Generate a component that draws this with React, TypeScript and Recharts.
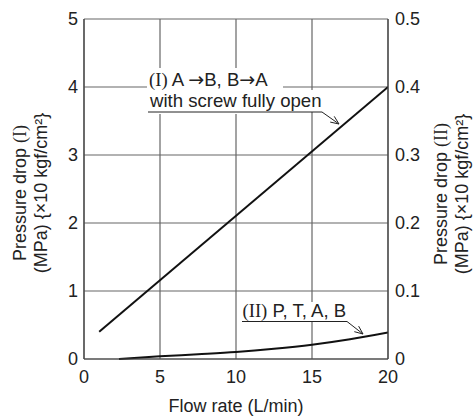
import { LineChart, Line, XAxis, YAxis, CartesianGrid } from 'recharts';

const flowTicks = [0, 5, 10, 15, 20];
const dropTicksI = [0, 1, 2, 3, 4, 5];
const dropTicksII = [0, 0.1, 0.2, 0.3, 0.4, 0.5];

// (I) A->B, B->A with screw fully open
const flowI = [1, 20];
const dropI = [0.4, 4.0];

// (II) P, T, A, B
const flowII = [2.3, 5, 7.5, 10, 12.5, 15, 17.5, 20];
const dropII = [0, 0.004, 0.007, 0.0103, 0.015, 0.021, 0.029, 0.039];

const seriesI = flowI.map((x, i) => ({ x, y: dropI[i] }));
const seriesII = flowII.map((x, i) => ({ x, y: dropII[i] }));

const W = 475;
const H = 417;
const sans = '"Liberation Sans", Arial, sans-serif';
const serif = '"Liberation Serif", "Times New Roman", serif';
const arrowFont = '"DejaVu Sans", sans-serif';
const tickStyle = { fontSize: 18, fill: '#222', fontFamily: sans };

function Arrow({ x1, y1, x2, y2 }: { x1: number; y1: number; x2: number; y2: number }) {
    const a = Math.atan2(y2 - y1, x2 - x1);
    const len = 9;
    const s = 0.4;
    const p1 = [x2 - len * Math.cos(a - s), y2 - len * Math.sin(a - s)];
    const p2 = [x2 - len * Math.cos(a + s), y2 - len * Math.sin(a + s)];
    return (
        <g stroke="#222" strokeWidth={1} fill="none">
            <line x1={x1} y1={y1} x2={x2} y2={y2} />
            <polyline points={`${p1[0]},${p1[1]} ${x2},${y2} ${p2[0]},${p2[1]}`} />
        </g>
    );
}

function Overlay() {
    return (
        <svg width={W} height={H} style={{ position: 'absolute', left: 0, top: 0, pointerEvents: 'none' }}>
            <g fontFamily={sans} fontSize={18} fill="#222">
                {/* white backing behind annotation text */}
                <rect x={147} y={68} width={136} height={46} fill="#fff" />
                <rect x={283} y={90} width={41} height={22} fill="#fff" />
                <rect x={240} y={302} width={108} height={19} fill="#fff" />

                <g fontSize={18.6}>
                    <text x={149} y={86}>
                        <tspan fontFamily={serif}>(I)</tspan> A <tspan fontFamily={arrowFont} fontSize={19}>→</tspan>B, B<tspan fontFamily={arrowFont} fontSize={19}>→</tspan>A
                    </text>
                    <text x={150} y={106.5}>with screw fully open</text>
                    <text x={242.5} y={317}>
                        <tspan fontFamily={serif}>(II)</tspan> P, T, A, B
                    </text>
                </g>
                <line x1={148} y1={112} x2={322} y2={112} stroke="#222" strokeWidth={1} />
                <Arrow x1={322} y1={112} x2={339} y2={124} />
                <line x1={242} y1={321.5} x2={347} y2={321.5} stroke="#222" strokeWidth={1} />
                <Arrow x1={347} y1={321.5} x2={363} y2={334} />

                {/* axis titles */}
                <text transform="translate(20,193) rotate(-90)" textAnchor="middle" dominantBaseline="central">
                    Pressure drop <tspan fontFamily={serif}>(I)</tspan>
                </text>
                <text transform="translate(41,193) rotate(-90)" textAnchor="middle" dominantBaseline="central">
                    (MPa) {'{×10 kgf/cm²}'}
                </text>
                <text transform="translate(441,194) rotate(-90)" textAnchor="middle" dominantBaseline="central">
                    Pressure drop <tspan fontFamily={serif}>(II)</tspan>
                </text>
                <text transform="translate(462,194) rotate(-90)" textAnchor="middle" dominantBaseline="central">
                    (MPa) {'{×10 kgf/cm²}'}
                </text>
                <text x={236} y={412} textAnchor="middle">Flow rate (L/min)</text>
            </g>
        </svg>
    );
}

export default function App() {
    return (
        <div style={{ position: 'absolute', left: 0, top: 0, width: W, height: H, background: '#fff' }}>
            <LineChart width={W} height={H} margin={{ top: 19, right: 0, bottom: 0, left: 0 }}>
                <CartesianGrid yAxisId="left" stroke="#666" strokeWidth={1.2} />
                <XAxis
                    dataKey="x"
                    type="number"
                    domain={[0, 20]}
                    ticks={flowTicks}
                    height={58}
                    tickLine={false}
                    tickSize={0}
                    tickMargin={11}
                    axisLine={{ stroke: '#444', strokeWidth: 1.2 }}
                    tick={tickStyle}
                    allowDataOverflow
                />
                <YAxis
                    yAxisId="left"
                    type="number"
                    domain={[0, 5]}
                    ticks={dropTicksI}
                    width={84}
                    tickLine={false}
                    tickSize={0}
                    tickMargin={6}
                    axisLine={{ stroke: '#444', strokeWidth: 1.2 }}
                    tick={tickStyle}
                />
                <YAxis
                    yAxisId="right"
                    orientation="right"
                    type="number"
                    domain={[0, 0.5]}
                    ticks={dropTicksII}
                    width={87}
                    tickLine={false}
                    tickSize={0}
                    tickMargin={7}
                    axisLine={{ stroke: '#444', strokeWidth: 1.2 }}
                    tick={tickStyle}
                />
                <Line
                    yAxisId="left"
                    data={seriesI}
                    dataKey="y"
                    type="linear"
                    stroke="#111"
                    strokeWidth={2}
                    dot={false}
                    isAnimationActive={false}
                />
                <Line
                    yAxisId="right"
                    data={seriesII}
                    dataKey="y"
                    type="monotone"
                    stroke="#111"
                    strokeWidth={2}
                    dot={false}
                    isAnimationActive={false}
                />
            </LineChart>
            <Overlay />
        </div>
    );
}
